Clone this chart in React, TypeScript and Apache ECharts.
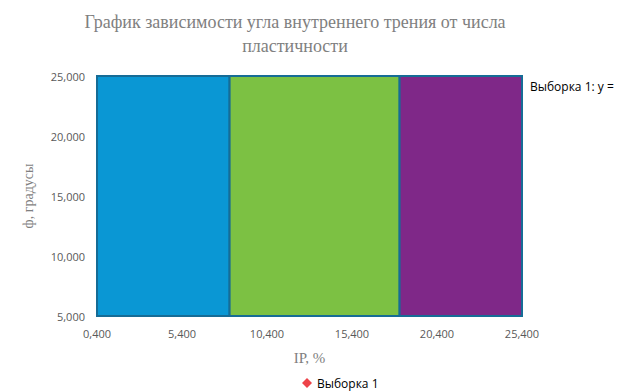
import React, { useEffect, useRef } from "react";
import * as echarts from "echarts";

const xTicks = [0.4, 5.4, 10.4, 15.4, 20.4, 25.4];
const yTicks = [5, 10, 15, 20, 25];
const zoneStarts = [0.4, 8.2, 18.2];
const zoneEnds = [8.2, 18.2, 25.4];
const zoneBottoms = [5, 5, 5];
const zoneTops = [25, 25, 25];
const zoneColors = ["#0a97d4", "#7cc143", "#7f2888"];
const seriesName = "Выборка 1";

const X0 = xTicks[0];

export default function App() {
  const ref = useRef<HTMLDivElement>(null);
  useEffect(() => {
    document.body.style.margin = "0";
    if (!ref.current) return;
    const chart = echarts.init(ref.current, undefined, { renderer: "svg" });
    const data = zoneStarts.map((s, i) => [s - X0, zoneEnds[i] - X0, zoneBottoms[i], zoneTops[i], i]);
    chart.setOption({
      animation: false,
      backgroundColor: "#ffffff",
      title: {
        text: "График зависимости угла внутреннего трения от числа\nпластичности",
        left: 290,
        textAlign: "center",
        top: 5,
        textStyle: {
          fontFamily: "Liberation Serif",
          fontSize: 18,
          fontWeight: "normal",
          color: "#808080",
          lineHeight: 24,
        },
      },
      grid: { left: 97, right: 105, top: 76, bottom: 75 },
      legend: {
        data: [{ name: seriesName, icon: "diamond" }],
        left: 297,
        top: 372,
        itemWidth: 10,
        itemHeight: 10,
        itemGap: 4,
        textStyle: { fontFamily: "Open Sans", fontSize: 12, color: "#000000" },
      },
      xAxis: {
        type: "value",
        min: 0,
        max: xTicks[xTicks.length - 1] - X0,
        interval: 5,
        name: "IP, %",
        nameLocation: "middle",
        nameGap: 34,
        nameTextStyle: { fontFamily: "Liberation Serif", fontSize: 15, color: "#7f7f7f" },
        axisLine: { show: true, lineStyle: { color: "#d9d9d9" } },
        axisTick: { show: false },
        splitLine: { show: true, lineStyle: { color: "#e6e6e6" } },
        axisLabel: {
          margin: 12,
          fontFamily: "Open Sans",
          fontSize: 11,
          color: "#595959",
          formatter: (v: number) => (v + X0).toFixed(3).replace(".", ","),
        },
      },
      yAxis: {
        type: "value",
        min: yTicks[0],
        max: yTicks[yTicks.length - 1],
        interval: 5,
        name: "ф, градусы",
        nameLocation: "middle",
        nameGap: 62,
        nameTextStyle: { fontFamily: "Liberation Serif", fontSize: 14, color: "#7f7f7f" },
        axisLine: { show: false },
        axisTick: { show: false },
        splitLine: { show: true, lineStyle: { color: "#e6e6e6" } },
        axisLabel: {
          margin: 12,
          fontFamily: "Open Sans",
          fontSize: 11,
          color: "#595959",
          formatter: (v: number) => v.toFixed(3).replace(".", ","),
        },
      },
      series: [
        {
          type: "custom",
          silent: true,
          renderItem: (params: any, api: any) => {
            const p0 = api.coord([api.value(0), api.value(3)]);
            const p1 = api.coord([api.value(1), api.value(2)]);
            const idx = api.value(4);
            return {
              type: "rect",
              shape: { x: p0[0], y: p0[1], width: p1[0] - p0[0], height: p1[1] - p0[1] },
              style: { fill: zoneColors[idx], stroke: "#166c96", lineWidth: 2 },
            };
          },
          data,
          z: 2,
        },
        {
          type: "scatter",
          name: seriesName,
          symbol: "diamond",
          itemStyle: { color: "#e8141b" },
          data: [],
        },
      ],
      graphic: [
        {
          type: "text",
          left: 530,
          top: 80,
          style: {
            text: "Выборка 1: y =",
            fontFamily: "Open Sans",
            fontSize: 12,
            fill: "#000000",
          },
        },
      ],
    });
    return () => chart.dispose();
  }, []);
  return <div ref={ref} style={{ width: 627, height: 391 }} />;
}
